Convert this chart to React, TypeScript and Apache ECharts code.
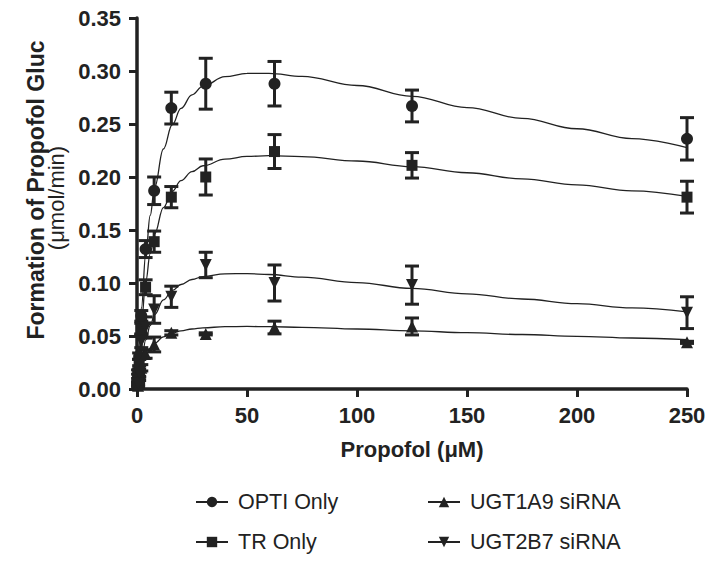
import React, { useEffect, useRef } from "react";
import * as echarts from "echarts";

// Propofol concentrations (µM) of the measured points
const concentrations = [0.49, 0.98, 1.95, 3.9, 7.8, 15.6, 31.25, 62.5, 125, 250];

// Mean formation (µmol/min) and error (±) per group
const optiMean = [0.016, 0.031, 0.069, 0.132, 0.187, 0.265, 0.288, 0.288, 0.267, 0.236];
const optiErr = [0.002, 0.003, 0.005, 0.008, 0.013, 0.015, 0.024, 0.021, 0.015, 0.02];
const trMean = [0.008, 0.025, 0.057, 0.096, 0.139, 0.181, 0.2, 0.224, 0.211, 0.181];
const trErr = [0.002, 0.003, 0.005, 0.007, 0.01, 0.01, 0.017, 0.016, 0.012, 0.015];
const ugt1a9Mean = [0.003, 0.01, 0.02, 0.033, 0.042, 0.053, 0.052, 0.058, 0.059, 0.044];
const ugt1a9Err = [0.001, 0.002, 0.003, 0.004, 0.007, 0.002, 0.001, 0.006, 0.008, 0.001];
const ugt2b7Mean = [0.005, 0.015, 0.045, 0.058, 0.075, 0.087, 0.117, 0.1, 0.098, 0.072];
const ugt2b7Err = [0.002, 0.004, 0.006, 0.01, 0.013, 0.01, 0.012, 0.017, 0.018, 0.015];

// Fitted curves
const curveX = [0, 1, 2, 4, 6, 8, 12, 16, 20, 25, 30, 40, 50, 60, 75, 100, 125, 150, 175, 200, 225, 250];
const optiCurve = [0, 0.0427, 0.0768, 0.1277, 0.1637, 0.1903, 0.2264, 0.2493, 0.2647, 0.2775, 0.2858, 0.2946, 0.2977, 0.2978, 0.2949, 0.2863, 0.2761, 0.2655, 0.2553, 0.2455, 0.2362, 0.2276];
const trCurve = [0, 0.0357, 0.0629, 0.1016, 0.1277, 0.1464, 0.1711, 0.1864, 0.1966, 0.205, 0.2106, 0.2168, 0.2194, 0.2201, 0.2192, 0.2151, 0.2098, 0.204, 0.1982, 0.1925, 0.187, 0.1817];
const ugt1a9Curve = [0, 0.0118, 0.0202, 0.0314, 0.0384, 0.0431, 0.0491, 0.0527, 0.0549, 0.0566, 0.0577, 0.0588, 0.059, 0.0588, 0.0582, 0.0566, 0.0549, 0.0531, 0.0514, 0.0497, 0.0481, 0.0466];
const ugt2b7Curve = [0, 0.0151, 0.0274, 0.0463, 0.0599, 0.0701, 0.084, 0.0928, 0.0986, 0.1033, 0.1061, 0.1087, 0.1089, 0.108, 0.1055, 0.1004, 0.0949, 0.0897, 0.0849, 0.0805, 0.0765, 0.0728];

const xTicks = { min: 0, max: 250, interval: 50 };
const yTicks = { min: 0, max: 0.35, interval: 0.05 };

const INK = "#222222";
const FONT = "'Liberation Sans', Arial, Helvetica, sans-serif";

type Group = {
  name: string;
  mean: number[];
  err: number[];
  curve: number[];
  symbol: string;
  rotate: number;
  size: number;
};

const groups: Group[] = [
  { name: "OPTI Only", mean: optiMean, err: optiErr, curve: optiCurve, symbol: "circle", rotate: 0, size: 12 },
  { name: "TR Only", mean: trMean, err: trErr, curve: trCurve, symbol: "rect", rotate: 0, size: 11 },
  { name: "UGT1A9 siRNA", mean: ugt1a9Mean, err: ugt1a9Err, curve: ugt1a9Curve, symbol: "triangle", rotate: 0, size: 12 },
  { name: "UGT2B7 siRNA", mean: ugt2b7Mean, err: ugt2b7Err, curve: ugt2b7Curve, symbol: "triangle", rotate: 180, size: 12 },
];

export default function App() {
  const ref = useRef<HTMLDivElement>(null);

  useEffect(() => {
    if (!ref.current) return;
    const chart = echarts.init(ref.current, null, { renderer: "svg" });

    const series: any[] = [];
    // curves first so that legend picks the line series icon
    groups.forEach((g) => {
      series.push({
        name: g.name,
        type: "line",
        data: curveX.map((x, i) => [x, g.curve[i]]),
        smooth: 0.4,
        smoothMonotone: "x",
        showSymbol: false,
        symbol: g.symbol,
        symbolRotate: g.rotate,
        lineStyle: { color: INK, width: 1.3 },
        itemStyle: { color: INK },
        z: 2,
        silent: true,
      });
    });
    groups.forEach((g) => {
      series.push({
        name: g.name + " error",
        type: "custom",
        data: concentrations.map((x, i) => [x, g.mean[i] - g.err[i], g.mean[i] + g.err[i]]),
        renderItem: (params: any, api: any) => {
          const x = api.value(0);
          const lo = api.coord([x, api.value(1)]);
          const hi = api.coord([x, api.value(2)]);
          const w = 7;
          const style = { stroke: INK, lineWidth: 3 };
          return {
            type: "group",
            children: [
              { type: "line", shape: { x1: lo[0], y1: lo[1], x2: hi[0], y2: hi[1] }, style },
              { type: "line", shape: { x1: lo[0] - w, y1: lo[1], x2: lo[0] + w, y2: lo[1] }, style },
              { type: "line", shape: { x1: hi[0] - w, y1: hi[1], x2: hi[0] + w, y2: hi[1] }, style },
            ],
          };
        },
        z: 3,
        silent: true,
      });
      series.push({
        name: g.name,
        type: "scatter",
        data: concentrations.map((x, i) => [x, g.mean[i]]),
        symbol: g.symbol,
        symbolRotate: g.rotate,
        symbolSize: g.size,
        itemStyle: { color: INK, opacity: 1 },
        z: 4,
        silent: true,
      });
    });

    const legendCommon = {
      orient: "vertical" as const,
      top: 486,
      itemWidth: 32,
      itemHeight: 13,
      itemGap: 18,
      selectedMode: false,
      lineStyle: { width: 2, color: INK },
      itemStyle: { color: INK },
      textStyle: { fontFamily: FONT, fontSize: 21.5, color: INK, padding: [0, 0, 0, 5] },
    };

    chart.setOption({
      animation: false,
      backgroundColor: "#ffffff",
      grid: { left: 137, right: 27, top: 18, bottom: 175, containLabel: false },
      xAxis: {
        type: "value",
        min: xTicks.min,
        max: xTicks.max,
        interval: xTicks.interval,
        name: "Propofol (\u03bcM)",
        nameLocation: "middle",
        nameGap: 49,
        nameTextStyle: { fontFamily: FONT, fontSize: 22, fontWeight: "bold", color: INK },
        axisLine: { lineStyle: { color: INK, width: 3.5 } },
        axisTick: { show: true, length: 8, lineStyle: { color: INK, width: 3 } },
        axisLabel: { fontFamily: FONT, fontSize: 22, fontWeight: "bold", color: INK, margin: 15 },
        splitLine: { show: false },
      },
      yAxis: {
        type: "value",
        min: yTicks.min,
        max: yTicks.max,
        interval: yTicks.interval,
        axisLine: { show: true, lineStyle: { color: INK, width: 3.5 } },
        axisTick: { show: true, length: 8, lineStyle: { color: INK, width: 3 } },
        axisLabel: {
          fontFamily: FONT,
          fontSize: 22,
          fontWeight: "bold",
          color: INK,
          margin: 16,
          formatter: (v: number) => v.toFixed(2),
        },
        splitLine: { show: false },
      },
      legend: [
        { ...legendCommon, left: 190, data: ["OPTI Only", "TR Only"] },
        { ...legendCommon, left: 422, data: ["UGT1A9 siRNA", "UGT2B7 siRNA"] },
      ],
      graphic: [
        {
          type: "text",
          x: 36,
          y: 190,
          rotation: Math.PI / 2,
          style: {
            text: "Formation of Propofol Gluc",
            fontFamily: FONT,
            fontSize: 23,
            fontWeight: "bold",
            fill: INK,
            textAlign: "center",
            textVerticalAlign: "middle",
          },
        },
        {
          type: "text",
          x: 56,
          y: 198,
          rotation: Math.PI / 2,
          style: {
            text: "(\u03bcmol/min)",
            fontFamily: FONT,
            fontSize: 22,
            fill: INK,
            textAlign: "center",
            textVerticalAlign: "middle",
          },
        },
      ],
      series,
    });

    return () => chart.dispose();
  }, []);

  return (
    <div
      ref={ref}
      style={{ position: "absolute", left: 0, top: 0, width: 714, height: 564, background: "#fff" }}
    />
  );
}
